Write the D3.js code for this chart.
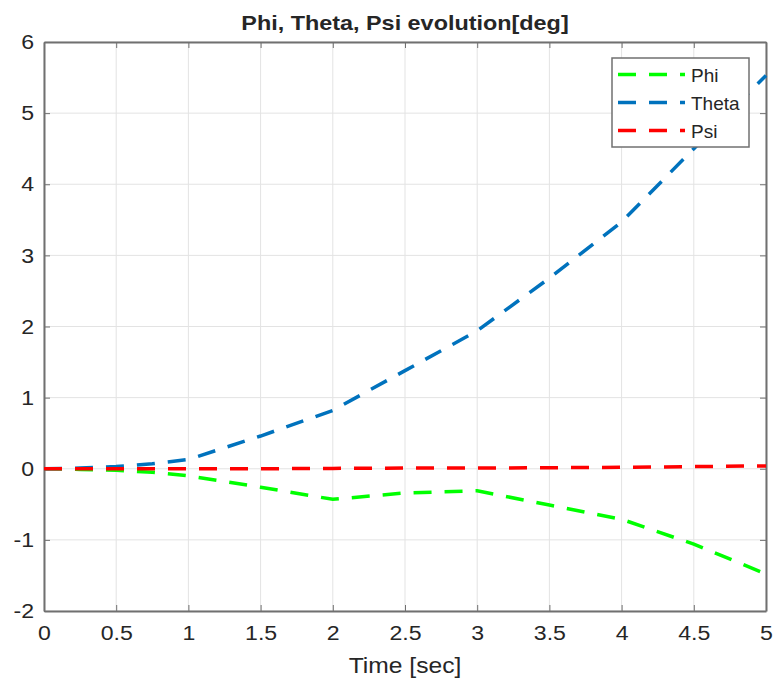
<!DOCTYPE html>
<html>
<head>
<meta charset="utf-8">
<script src="https://cdn.jsdelivr.net/npm/d3@7"></script>
<style>
  body { margin: 0; background: #fff; }
  svg text { font-family: "Liberation Sans", Arial, sans-serif; fill: #262626; }
  .grid line { stroke: #e3e3e3; stroke-width: 1; }
  .axis path, .axis line { stroke: #707070; }
</style>
</head>
<body>
<div id="chart"></div>
<script>
// values
const time  = [0, 0.25, 0.5, 0.75, 1, 1.5, 2, 2.5, 3, 3.5, 4, 4.5, 5];
const phi   = [0, -0.01, -0.02, -0.05, -0.10, -0.26, -0.43, -0.34, -0.31, -0.51, -0.71, -1.06, -1.48];
const theta = [0, 0.01, 0.03, 0.07, 0.13, 0.46, 0.82, 1.38, 1.94, 2.68, 3.47, 4.5, 5.53];
const psi   = [0, 0, 0, 0, 0, 0, 0.005, 0.01, 0.01, 0.015, 0.02, 0.03, 0.04];

const seriesNames  = ["Phi", "Theta", "Psi"];
const seriesColors = ["#00ff00", "#0072bd", "#ff0000"];
const xTicks = [0, 0.5, 1, 1.5, 2, 2.5, 3, 3.5, 4, 4.5, 5];
const yTicks = [-2, -1, 0, 1, 2, 3, 4, 5, 6];

const width = 776, height = 682;
const margin = { top: 42, right: 10, bottom: 71, left: 44 };
const w = width - margin.left - margin.right;
const h = height - margin.top - margin.bottom;

// the reference text is a bit wider than plain Arial
const stretch = 1.1;

const svg = d3.select("#chart").append("svg")
    .attr("width", width)
    .attr("height", height);

const g = svg.append("g")
    .attr("transform", `translate(${margin.left},${margin.top})`);

const x = d3.scaleLinear().domain([0, 5]).range([0, w]);
const y = d3.scaleLinear().domain([-2, 6]).range([h, 0]);

// grid
g.append("g").attr("class", "grid")
    .selectAll("line").data(xTicks).join("line")
    .attr("x1", d => x(d)).attr("x2", d => x(d))
    .attr("y1", 0).attr("y2", h);
g.append("g").attr("class", "grid")
    .selectAll("line").data(yTicks).join("line")
    .attr("y1", d => y(d)).attr("y2", d => y(d))
    .attr("x1", 0).attr("x2", w);

// axes, ticks pointing inward like matlab
const fmt = d => String(d);
const xAxis = g.append("g").attr("class", "axis")
    .attr("transform", `translate(0,${h})`)
    .call(d3.axisBottom(x).tickValues(xTicks).tickFormat(fmt).tickSizeInner(-6).tickSizeOuter(0).tickPadding(14));
const yAxis = g.append("g").attr("class", "axis")
    .call(d3.axisLeft(y).tickValues(yTicks).tickFormat(fmt).tickSizeInner(-6).tickSizeOuter(0).tickPadding(12));
g.append("g").attr("class", "axis")
    .call(d3.axisTop(x).tickValues(xTicks).tickFormat("").tickSizeInner(-6).tickSizeOuter(0));
g.append("g").attr("class", "axis")
    .attr("transform", `translate(${w},0)`)
    .call(d3.axisRight(y).tickValues(yTicks).tickFormat("").tickSizeInner(-6).tickSizeOuter(0));

g.selectAll(".axis path").attr("stroke-width", 2);
xAxis.selectAll("text")
    .style("font-size", "21px")
    .attr("fill", "#262626")
    .attr("transform", `scale(${stretch},1)`);
yAxis.selectAll("text")
    .style("font-size", "21px")
    .attr("fill", "#262626")
    .attr("x", -10 / stretch)
    .attr("transform", `scale(${stretch},1)`);

// series lines
const rows = seriesNames.map((name, i) => ({
    name: name,
    color: seriesColors[i],
    values: time.map((t, j) => ({ t: t, v: [phi, theta, psi][i][j] }))
}));

const line = d3.line()
    .x(d => x(d.t))
    .y(d => y(d.v));

g.selectAll(".series").data(rows)
    .join("path")
    .attr("class", "series")
    .attr("fill", "none")
    .attr("stroke", d => d.color)
    .attr("stroke-width", 3.5)
    .attr("stroke-dasharray", "18,13")
    .attr("d", d => line(d.values));

// title and label
svg.append("text")
    .attr("transform", `translate(${margin.left + w / 2},30) scale(1.17,1)`)
    .attr("text-anchor", "middle")
    .style("font-size", "20px")
    .style("font-weight", "bold")
    .attr("fill", "#000")
    .text("Phi, Theta, Psi evolution[deg]");

svg.append("text")
    .attr("transform", `translate(${margin.left + w / 2},673) scale(1.12,1)`)
    .attr("text-anchor", "middle")
    .style("font-size", "22px")
    .text("Time [sec]");

// legend
const legend = svg.append("g")
    .attr("transform", "translate(612,58)");
legend.append("rect")
    .attr("width", 137)
    .attr("height", 89)
    .attr("fill", "#fff")
    .attr("stroke", "#707070")
    .attr("stroke-width", 1.5);

const item = legend.selectAll(".legend-item").data(rows)
    .join("g")
    .attr("class", "legend-item")
    .attr("transform", (d, i) => `translate(0,${16.5 + i * 28})`);
item.append("line")
    .attr("x1", 6).attr("x2", 73)
    .attr("stroke", d => d.color)
    .attr("stroke-width", 3.5)
    .attr("stroke-dasharray", "18,13");
item.append("text")
    .attr("x", 79)
    .attr("y", 7)
    .style("font-size", "19px")
    .attr("fill", "#000")
    .text(d => d.name);
</script>
</body>
</html>
